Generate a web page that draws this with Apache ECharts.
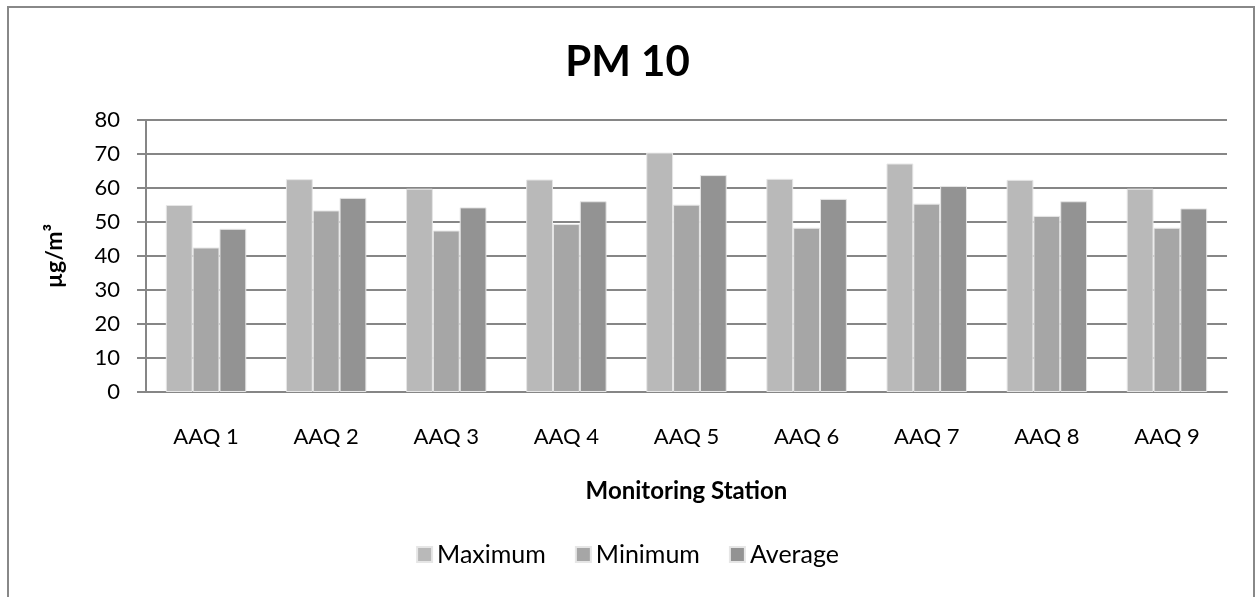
<!DOCTYPE html>
<html><head><meta charset="utf-8">
<script src="https://cdn.jsdelivr.net/npm/echarts@6/dist/echarts.min.js"></script>
<style>html,body{margin:0;padding:0;background:#fff}#c{width:1255px;height:597px}</style>
</head><body><div id="c"></div>
<script>
const categories = ['AAQ 1','AAQ 2','AAQ 3','AAQ 4','AAQ 5','AAQ 6','AAQ 7','AAQ 8','AAQ 9'];
const maximum = [55.0, 62.6, 59.8, 62.5, 70.4, 62.7, 67.2, 62.4, 59.8];
const minimum = [42.5, 53.4, 47.5, 49.4, 55.1, 48.3, 55.4, 51.8, 48.3];
const average = [48.0, 57.1, 54.3, 56.1, 63.8, 56.8, 60.6, 56.1, 54.0];
const yTicks = [0, 10, 20, 30, 40, 50, 60, 70, 80];

const font = 'Lato, "Open Sans", sans-serif';
const chart = echarts.init(document.getElementById('c'), null, {renderer: 'canvas'});
const mk = (name, data, color) => ({
  name, type: 'bar', data, barGap: '0%', barCategoryGap: '33%',
  itemStyle: {color, borderColor: '#e6e6e6', borderWidth: 1},
  emphasis: {disabled: true}
});
chart.setOption({
  animation: false,
  title: {text: 'PM 10', left: 'center', top: 36,
    textStyle: {fontFamily: font, fontSize: 42, fontWeight: 'bold', color: '#000'}},
  graphic: [{type: 'rect', shape: {x: 8, y: 7, width: 1246, height: 620},
    style: {fill: 'none', stroke: '#888', lineWidth: 2}, silent: true}],
  legend: {bottom: 25, left: 'center', itemWidth: 15, itemHeight: 15, itemGap: 29,
    icon: 'rect', textStyle: {fontFamily: font, fontSize: 25, color: '#000'},
    data: ['Maximum', 'Minimum', 'Average']},
  grid: {left: 146, right: 28, top: 120, bottom: 205, containLabel: false},
  xAxis: {type: 'category', data: categories,
    name: 'Monitoring Station', nameLocation: 'middle', nameGap: 87,
    nameTextStyle: {fontFamily: font, fontSize: 24, fontWeight: 'bold', color: '#000'},
    axisLine: {lineStyle: {color: '#868686', width: 2}},
    axisTick: {show: false},
    axisLabel: {fontFamily: font, fontSize: 22, color: '#000', margin: 34}},
  yAxis: {type: 'value', min: 0, max: 80, interval: 10,
    name: 'µg/m³', nameLocation: 'middle', nameGap: 80, nameRotate: 90,
    nameTextStyle: {fontFamily: font, fontSize: 23, fontWeight: 'bold', color: '#000'},
    axisLine: {show: true, lineStyle: {color: '#868686', width: 2}},
    axisTick: {show: true, inside: false, length: 9, lineStyle: {color: '#868686', width: 2}},
    splitLine: {lineStyle: {color: '#868686', width: 2}},
    axisLabel: {fontFamily: font, fontSize: 22, color: '#000', margin: 26,
      formatter: v => yTicks.includes(v) ? String(v) : ''}},
  series: [mk('Maximum', maximum, '#b9b9b9'), mk('Minimum', minimum, '#a6a6a6'), mk('Average', average, '#939393')]
});
</script></body></html>
